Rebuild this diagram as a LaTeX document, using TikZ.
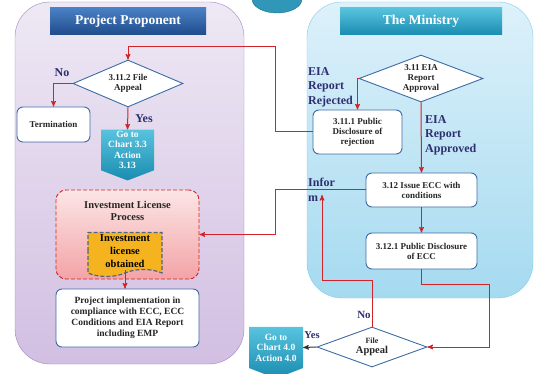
\documentclass[tikz,border=0pt]{standalone}
\usepackage{fontspec}
\setmainfont{Liberation Serif}
\usetikzlibrary{positioning, arrows, shapes.geometric, shapes.symbols}
\definecolor{navy}{HTML}{2E2F70}
\definecolor{linered}{HTML}{D0232A}
\definecolor{boxblue}{HTML}{3E6BA5}
\definecolor{ppbord}{HTML}{9C86C6}
\definecolor{pptop}{HTML}{EEE8F4}
\definecolor{ppbot}{HTML}{D2BFE2}
\definecolor{mibord}{HTML}{80CDE9}
\definecolor{mitop}{HTML}{DDF1FA}
\definecolor{mibot}{HTML}{A5DAF0}
\definecolor{tealtop}{HTML}{58C3DE}
\definecolor{tealbot}{HTML}{1A8CB0}
\definecolor{bantop}{HTML}{4A80C4}
\definecolor{banbot}{HTML}{1F4C8C}
\definecolor{pinktop}{HTML}{FCE6E6}
\definecolor{pinkbot}{HTML}{F3A3A6}
\definecolor{orng}{HTML}{F5B41F}
\definecolor{slate}{HTML}{4E6684}
\definecolor{txt}{HTML}{262626}
\tikzset{
>=stealth', % makes the arrow heads pointed
flow/.style={->, draw=linered, line width=1pt}, % red connectors between the steps
box/.style={draw=boxblue, line width=0.9pt, fill=white, rounded corners=6pt, align=center, text=txt, inner sep=1pt, font=\fontsize{9}{10}\selectfont\bfseries}, % every action box
decision/.style={diamond, draw=boxblue, line width=0.9pt, fill=white, align=center, text=txt, inner sep=0pt, aspect=2.3, font=\fontsize{9}{10}\selectfont\bfseries}, % every appeal / approval
go/.style={signal, signal to=south, signal pointer angle=138, top color=tealtop, bottom color=tealbot, text=white, align=center, inner sep=0pt, font=\fontsize{9.5}{10.5}\selectfont\bfseries}, % jumps to another chart
banner/.style={minimum height=27pt, text=white, font=\fontsize{13.5}{15}\selectfont\bfseries}, % panel titles
lbl/.style={text=navy, align=left, inner sep=0pt, font=\fontsize{12}{14.5}\selectfont\bfseries}, % branch labels
doc/.style={tape, tape bend top=none, tape bend bottom=in and out, tape bend height=7pt, fill=orng, draw=slate, dash pattern=on 4pt off 2pt, line width=1.2pt, minimum width=74pt, minimum height=44pt, align=center, inner sep=1pt, font=\fontsize{10.5}{13}\selectfont\bfseries}, % document shaped box
}
\begin{document}
\begin{tikzpicture}[x=1pt, y=-1pt]
\useasboundingbox (0,0) rectangle (535,374);
% the two swim lanes
\draw[draw=ppbord, top color=pptop, bottom color=ppbot, rounded corners=35pt] (15,2) rectangle (244,364);
\draw[draw=mibord, top color=mitop, bottom color=mibot, rounded corners=35pt] (307,2) rectangle (533,298);
\begin{scope}
\clip (0,0) rectangle (535,374);
\draw[draw=tealbot!80!black, fill=tealbot!90] (277,-1) ellipse (25 and 14);
\end{scope}

\node[banner, top color=bantop, bottom color=banbot, minimum width=156pt] (pp) at (128,21.5) {Project Proponent};
\node[banner, top color=tealtop, bottom color=tealbot, minimum width=162pt] (mi) at (421,21.5) {The Ministry};

\node[decision, minimum width=110pt, minimum height=47pt] (fa1) at (128,83.5) {3.11.2 File\\Appeal};
\node[box, minimum width=73pt, minimum height=35pt] (term) at (53.5,124.5) {Termination};
\node[go, minimum width=53pt, minimum height=48pt] (go1) at (127.5,150) {Go to\\Chart 3.3\\Action\\3.13};

\node[decision, minimum width=124pt, minimum height=47pt] (ea) at (421,78.5) {3.11 EIA\\Report\\Approval};
\node[box, minimum width=89pt, minimum height=44pt] (pd1) at (357.5,132) {3.11.1 Public\\Disclosure of\\rejection};
\node[box, minimum width=111pt, minimum height=34pt] (ecc) at (421.5,190) {3.12 Issue ECC with\\conditions};
\node[box, minimum width=111pt, minimum height=36pt] (pd2) at (421.5,251) {3.12.1 Public Disclosure\\of ECC};

\node[decision, minimum width=110pt, minimum height=40pt] (fa2) at (372,347) {{\fontsize{8}{9}\selectfont File}\\{\fontsize{10.5}{12}\selectfont Appeal}};
\node[go, minimum width=54pt, minimum height=49pt] (go2) at (276,347.5) {Go to\\Chart 4.0\\Action 4.0};

\node[draw=linered, dash pattern=on 4pt off 2pt, line width=0.9pt, rounded corners=10pt, top color=pinktop, bottom color=pinkbot, minimum width=143pt, minimum height=89pt] (ilp) at (127.5,234.5) {};
\node[text=txt, align=center, font=\fontsize{10.5}{12.7}\selectfont\bfseries] (ilpt) at (127.5,211) {Investment License\\Process};
\node[doc] (ilo) at (125,251) {Investment\\license\\obtained};
\node[box, minimum width=143pt, minimum height=58pt, font=\fontsize{9.5}{11}\selectfont\bfseries] (impl) at (127.5,318) {Project implementation in\\compliance with ECC, ECC\\Conditions and EIA Report\\including EMP};

\node[lbl] (no1) at (62,73) {No};
\node[lbl] (yes1) at (144,119) {Yes};
\node[lbl, anchor=west] (rej) at (308,87) {EIA\\Report\\Rejected};
\node[lbl, anchor=west] (apr) at (425,135) {EIA\\Report\\Approved};
\node[lbl, anchor=west] (inf) at (308,190) {Infor\\m};
\node[lbl, font=\fontsize{11}{13}\selectfont\bfseries] (no2) at (364,315) {No};
\node[lbl, font=\fontsize{10.5}{13}\selectfont\bfseries] (yes2) at (312,335) {Yes};

\coordinate (k1) at (275,47);
\coordinate (k2) at (275,234.5);
\coordinate (k3) at (322,280);
\coordinate (k4) at (322,195);
\coordinate (k5) at (489,284);
\draw[flow] (pd1.west) -| (k1) -| (fa1.north);
\draw[flow] (fa1.west) -| (term.north);
\draw[flow] (fa1.south) -- (go1.north);
\draw[flow] (ea.west) -| (pd1.north);
\draw[flow] (ea.south) -- (ecc.north);
\draw[flow] (ecc.south) -- (pd2.north);
\draw[flow] (ecc.west) -| (k2) -- (ilp.east);
\draw[flow] (fa2.north) |- (k3) -- (k4);
\draw[flow] (pd2.south) |- (k5) |- (fa2.east);
\draw[flow] (ilo.south) -- (ilo.south |- impl.north);
\draw[->, line width=1pt, draw=black!80] (fa2.west) -- (go2.east);
\end{tikzpicture}
\end{document}
